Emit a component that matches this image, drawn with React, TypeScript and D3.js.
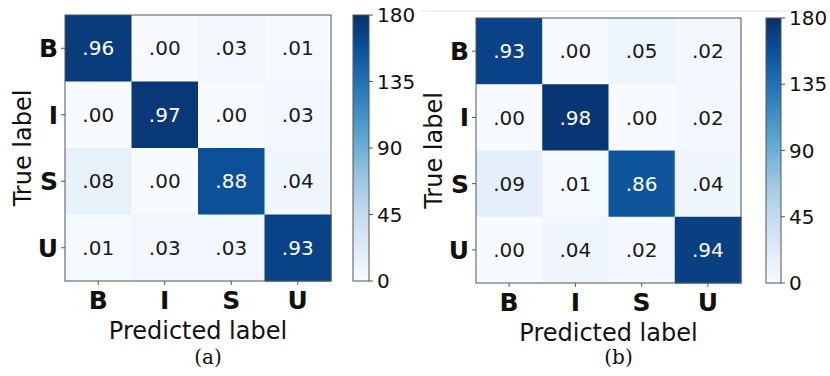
import React from 'react';
import * as d3 from 'd3';

const classes = ['B', 'I', 'S', 'U'];
const matrixA = [
  [0.96, 0.0, 0.03, 0.01],
  [0.0, 0.97, 0.0, 0.03],
  [0.08, 0.0, 0.88, 0.04],
  [0.01, 0.03, 0.03, 0.93],
];
const matrixB = [
  [0.93, 0.0, 0.05, 0.02],
  [0.0, 0.98, 0.0, 0.02],
  [0.09, 0.01, 0.86, 0.04],
  [0.0, 0.04, 0.02, 0.94],
];
const barTicks = [0, 45, 90, 135, 180];
const countMax = 180;

const SANS = 'DejaVu Sans, Verdana, sans-serif';

const fmt = (v: number) => d3.format('.2f')(v).replace(/^0/, '');

function Panel({ data, left, top, size, barX, barW, caption }: any) {
  const x = d3.scaleBand().domain(classes).range([left, left + size]);
  const y = d3.scaleBand().domain(classes).range([top, top + size]);
  const color = (v: number) => d3.interpolateBlues(v);
  const cScale = d3.scaleLinear().domain([0, countMax]).range([top + size, top]);
  const gradId = 'grad' + caption;
  const stops = d3.range(0, 1.0001, 0.05);

  return (
    <g>
      <defs>
        <linearGradient id={gradId} x1="0" y1="1" x2="0" y2="0">
          {stops.map(s => (
            <stop key={s} offset={s} stopColor={d3.interpolateBlues(s)} />
          ))}
        </linearGradient>
      </defs>
      {data.map((row: number[], i: number) =>
        row.map((v, j) => (
          <g key={i + '-' + j}>
            <rect x={x(classes[j])} y={y(classes[i])} width={x.bandwidth() + 0.5}
              height={y.bandwidth() + 0.5} fill={color(v)} />
            <text x={x(classes[j])! + x.bandwidth() / 2} y={y(classes[i])! + y.bandwidth() / 2}
              dy="0.36em" textAnchor="middle" fontFamily={SANS} fontSize={20}
              fill={v > 0.5 ? '#ffffff' : '#1a1a1a'}>{fmt(v)}</text>
          </g>
        ))
      )}
      <rect x={left} y={top} width={size} height={size} fill="none" stroke="#555" strokeWidth={1} />
      {classes.map(c => (
        <g key={'r' + c}>
          <line x1={left - 4} x2={left} y1={y(c)! + y.bandwidth() / 2} y2={y(c)! + y.bandwidth() / 2} stroke="#555" />
          <text x={left - 7} y={y(c)! + y.bandwidth() / 2} dy="0.36em" textAnchor="end"
            fontFamily={SANS} fontWeight="bold" fontSize={25} fill="#111">{c}</text>
          <line y1={top + size} y2={top + size + 4} x1={x(c)! + x.bandwidth() / 2} x2={x(c)! + x.bandwidth() / 2} stroke="#555" />
          <text y={top + size + 28} x={x(c)! + x.bandwidth() / 2} textAnchor="middle"
            fontFamily={SANS} fontWeight="bold" fontSize={25} fill="#111">{c}</text>
        </g>
      ))}
      <text x={left + size / 2} y={top + size + 58} textAnchor="middle" fontFamily={SANS}
        fontSize={24} fill="#111">Predicted label</text>
      <text transform={`translate(${left - 34},${top + size / 2}) rotate(-90)`} textAnchor="middle"
        fontFamily={SANS} fontSize={24} fill="#111">True label</text>
      <rect x={barX} y={top} width={barW} height={size} fill={`url(#${gradId})`} stroke="#555" strokeWidth={1} />
      {barTicks.map(t => (
        <g key={'t' + t}>
          <line x1={barX + barW} x2={barX + barW + 4} y1={cScale(t)} y2={cScale(t)} stroke="#555" />
          <text x={barX + barW + 8} y={cScale(t)} dy="0.36em" fontFamily={SANS} fontSize={20} fill="#111">{t}</text>
        </g>
      ))}
      <text x={left + size / 2 + 10} y={364} textAnchor="middle" fontFamily="DejaVu Serif, Liberation Serif, serif"
        fontSize={20} fill="#111">({caption})</text>
    </g>
  );
}

export default function App() {
  return (
    <svg width={830} height={376} style={{ position: 'absolute', left: 0, top: 0, background: '#fff' }}>
      <line x1={420} x2={830} y1={11} y2={11} stroke="#e4e4e4" />
      <Panel data={matrixA} left={65} top={15} size={266} barX={353} barW={16} caption="a" />
      <Panel data={matrixB} left={476} top={18} size={265} barX={766} barW={15} caption="b" />
    </svg>
  );
}
